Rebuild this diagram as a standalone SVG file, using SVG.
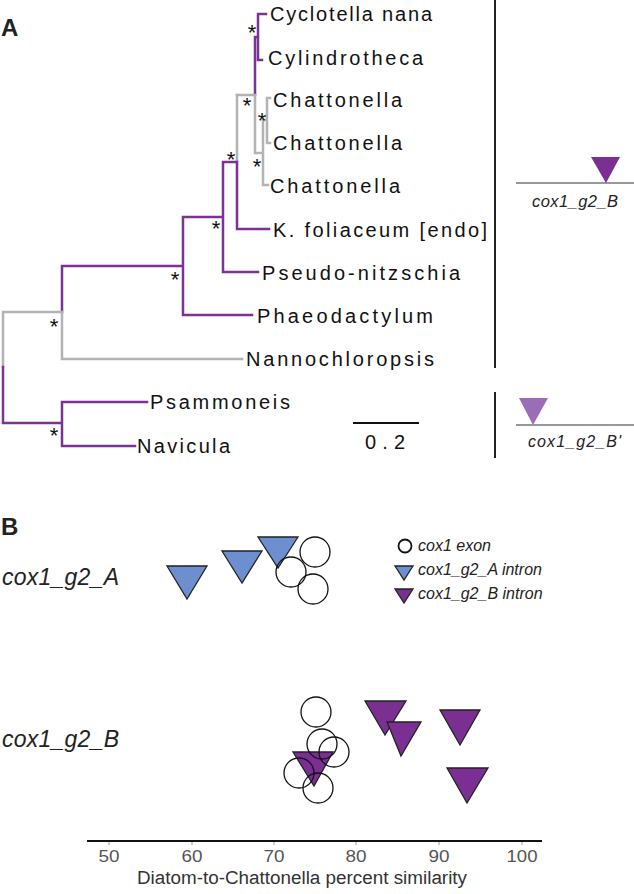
<svg xmlns="http://www.w3.org/2000/svg" width="634" height="894" viewBox="0 0 634 894">
<style>
.p{stroke:#7b3294;stroke-width:2.5;fill:none;stroke-linecap:square}
.g{stroke:#b3b3b3;stroke-width:2.5;fill:none;stroke-linecap:square}
.tip{font-family:"Liberation Sans",Arial,sans-serif;font-size:20px;fill:#111}
.star{font-family:"Liberation Sans",Arial,sans-serif;font-size:22px;fill:#111;text-anchor:middle}
.pl{font-family:"Liberation Sans",Arial,sans-serif;font-size:24px;font-weight:bold;fill:#222}
.it{font-family:"Liberation Sans",Arial,sans-serif;font-style:italic;fill:#222}
.circ{fill:none;stroke:#111;stroke-width:1.3}
.tb{fill:#6d8fcf;stroke:#222;stroke-width:1.3;stroke-linejoin:miter}
.tp{fill:#7b2f93;stroke:#222;stroke-width:1.3;stroke-linejoin:miter}
.ax{font-family:"Liberation Sans",Arial,sans-serif;font-size:16px;fill:#555;text-anchor:middle}
</style>
<text class="pl" x="1" y="36">A</text>
<g id="tree">
<path class="p" d="M258,14 V60 M258,14 H266 M258,60 H262 M255,37 H258 M255,37 V95"/>
<path class="g" d="M255,95 V153 M237,95 H255 M255,153 H263 M263,120 V185 M263,185 H268 M263,120 H267 M267,98 V143 M267,98 H270 M267,143 H270"/>
<path class="g" d="M237,95 V162"/>
<path class="p" d="M237,162 V229 M237,229 H269 M223,162 H237 M223,162 V272 M223,272 H258 M183,217 H223 M183,217 V315 M183,315 H252 M62,266 H183 M62,266 V312"/>
<path class="g" d="M62,312 V359 M62,359 H242 M3,312 H62 M3,312 V367"/>
<path class="p" d="M3,367 V423 M3,423 H62 M62,402 V446 M62,402 H147 M62,446 H135"/>
</g>
<g id="stars">
<text class="star" x="252" y="40">*</text>
<text class="star" x="247" y="113">*</text>
<text class="star" x="262" y="128">*</text>
<text class="star" x="257" y="174">*</text>
<text class="star" x="231" y="167">*</text>
<text class="star" x="216" y="236">*</text>
<text class="star" x="175" y="287">*</text>
<text class="star" x="54" y="334">*</text>
<text class="star" x="54" y="443">*</text>
</g>
<g id="tips">
<text class="tip" x="270" y="21" textLength="162" lengthAdjust="spacing">Cyclotella nana</text>
<text class="tip" x="268" y="65" textLength="155" lengthAdjust="spacing">Cylindrotheca</text>
<text class="tip" x="273" y="107" textLength="129" lengthAdjust="spacing">Chattonella</text>
<text class="tip" x="273" y="150" textLength="129" lengthAdjust="spacing">Chattonella</text>
<text class="tip" x="270" y="193" textLength="130" lengthAdjust="spacing">Chattonella</text>
<text class="tip" x="273" y="237" textLength="214" lengthAdjust="spacing">K. foliaceum [endo]</text>
<text class="tip" x="262" y="280" textLength="198" lengthAdjust="spacing">Pseudo-nitzschia</text>
<text class="tip" x="257" y="323" textLength="176" lengthAdjust="spacing">Phaeodactylum</text>
<text class="tip" x="246" y="366" textLength="188" lengthAdjust="spacing">Nannochloropsis</text>
<text class="tip" x="150" y="409" textLength="140" lengthAdjust="spacing">Psammoneis</text>
<text class="tip" x="137" y="453" textLength="93" lengthAdjust="spacing">Navicula</text>
</g>
<g id="scalebar">
<path d="M353,423 H419" stroke="#111" stroke-width="2"/>
<text class="tip" x="365" y="449" font-size="21" textLength="40" lengthAdjust="spacing">0.2</text>
</g>
<g id="brackets">
<path d="M495,0 V368 M495,392 V458" stroke="#222" stroke-width="2"/>
</g>
<g id="legendB">
<path d="M516,183 H634" stroke="#777" stroke-width="1.6"/>
<polygon points="591,157 620,157 606,183" fill="#7b2f93"/>
<text class="it" x="532" y="207" font-size="16.5" textLength="86" lengthAdjust="spacing">cox1_g2_B</text>
</g>
<g id="legendBp">
<path d="M516,425 H634" stroke="#777" stroke-width="1.6"/>
<polygon points="519,398 548,398 533,425" fill="#9b6cb7"/>
<text class="it" x="528" y="447" font-size="16" textLength="93" lengthAdjust="spacing">cox1_g2_B'</text>
</g>
<text class="pl" x="1" y="535">B</text>
<text class="it" x="2" y="585" font-size="23" textLength="117" lengthAdjust="spacing">cox1_g2_A</text>
<text class="it" x="2" y="747" font-size="23" textLength="117" lengthAdjust="spacing">cox1_g2_B</text>
<g id="pointsA">
<polygon class="tb" points="167,566 207,566 187,599"/>
<polygon class="tb" points="222,551 262,551 242,583"/>
<polygon class="tb" points="258,537 298,537 278,568"/>
<circle class="circ" cx="315" cy="552" r="15"/>
<circle class="circ" cx="291" cy="572" r="15"/>
<circle class="circ" cx="313" cy="589" r="15"/>
</g>
<g id="pointsB">
<polygon class="tp" points="365,701 406,701 385,735"/>
<polygon class="tp" points="387,722 421,722 401,756"/>
<polygon class="tp" points="440,710 480,710 460,745"/>
<polygon class="tp" points="447,768 488,768 467,803"/>
<polygon class="tp" points="293,752 333,752 314,786"/>
<circle class="circ" cx="316" cy="712" r="15"/>
<circle class="circ" cx="322" cy="744" r="15"/>
<circle class="circ" cx="334" cy="752" r="15"/>
<circle class="circ" cx="299" cy="773" r="15"/>
<circle class="circ" cx="318" cy="788" r="15"/>
</g>
<g id="legend">
<circle cx="405" cy="546" r="6.5" fill="none" stroke="#111" stroke-width="1.8"/>
<text class="it" x="418" y="551" font-size="16">cox1 exon</text>
<polygon class="tb" points="395,566 413,566 404,580"/>
<text class="it" x="418" y="575" font-size="16">cox1_g2_A intron</text>
<polygon class="tp" points="395,589 413,589 404,603"/>
<text class="it" x="418" y="599" font-size="16">cox1_g2_B intron</text>
</g>
<g id="axis">
<path d="M87,841 H542" stroke="#111" stroke-width="1.8"/>
<path d="M109,842 V845 M192,842 V845 M274,842 V845 M356,842 V845 M439,842 V845 M522,842 V845" stroke="#999" stroke-width="1"/>
<text class="ax" x="109" y="862" textLength="21" lengthAdjust="spacingAndGlyphs">50</text>
<text class="ax" x="192" y="862" textLength="21" lengthAdjust="spacingAndGlyphs">60</text>
<text class="ax" x="274" y="862" textLength="21" lengthAdjust="spacingAndGlyphs">70</text>
<text class="ax" x="356" y="862" textLength="21" lengthAdjust="spacingAndGlyphs">80</text>
<text class="ax" x="439" y="862" textLength="21" lengthAdjust="spacingAndGlyphs">90</text>
<text class="ax" x="522" y="862" textLength="31" lengthAdjust="spacingAndGlyphs">100</text>
<text x="302" y="884" font-family="Liberation Sans, Arial, sans-serif" font-size="18" fill="#333" text-anchor="middle" textLength="330" lengthAdjust="spacingAndGlyphs">Diatom-to-Chattonella percent similarity</text>
</g>
</svg>
